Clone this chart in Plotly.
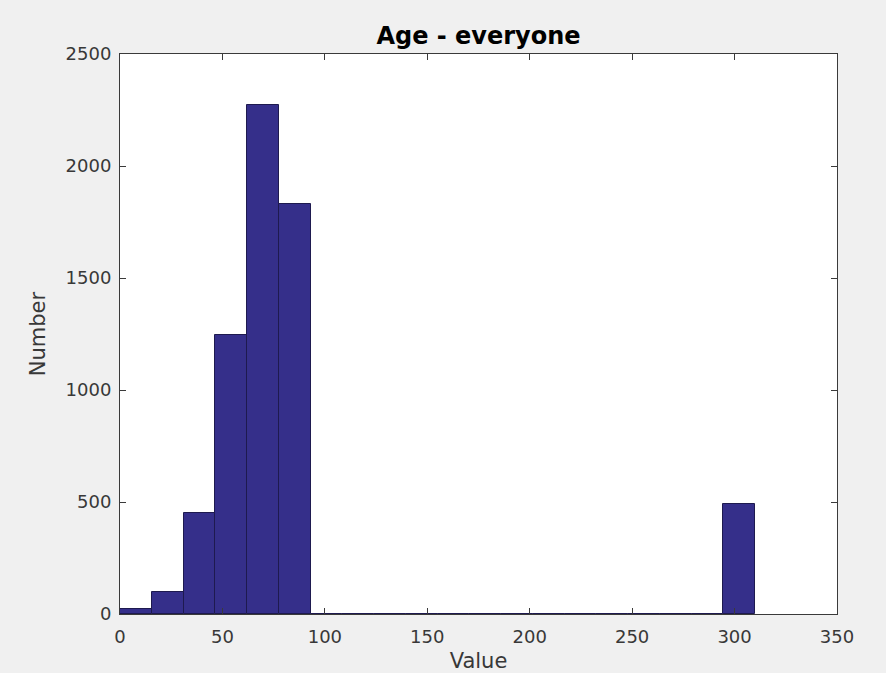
import plotly.graph_objects as go

bin_centers = [7.75, 23.25, 38.75, 54.25, 69.75, 85.25, 100.75, 116.25, 131.75, 147.25,
               162.75, 178.25, 193.75, 209.25, 224.75, 240.25, 255.75, 271.25, 286.75, 302.25]
counts = [21, 100, 452, 1245, 2272, 1829, 0, 0, 0, 0,
          0, 0, 0, 0, 0, 0, 0, 0, 0, 491]
bin_width = 15.5
x_ticks = [0, 50, 100, 150, 200, 250, 300, 350]
y_ticks = [0, 500, 1000, 1500, 2000, 2500]

fig = go.Figure(go.Bar(
    x=bin_centers, y=counts, width=bin_width,
    marker=dict(color="#352F8A", line=dict(color="#1E1A4F", width=1)),
    hoverinfo="x+y",
))

axis_common = dict(
    showline=True, linecolor="#3a3a3a", linewidth=1, mirror="ticks",
    ticks="inside", ticklen=6, tickcolor="#3a3a3a", tickwidth=1,
    showgrid=False, zeroline=False, automargin=False,
    tickfont=dict(family="DejaVu Sans", size=18, color="#383838"),
)

fig.update_layout(
    width=886, height=673,
    paper_bgcolor="#f0f0f0", plot_bgcolor="white",
    margin=dict(l=120, r=49, t=54, b=59),
    title=dict(text="<b>Age - everyone</b>", x=(120 + 837) / 2 / 886, xanchor="center",
               xref="container", yref="container", y=1 - 36/673, yanchor="middle",
               font=dict(family="DejaVu Sans", size=24, color="#000000")),
    xaxis=dict(range=[0, 350], tickvals=x_ticks, ticklabelstandoff=6,
               title=dict(text="Value", font=dict(family="DejaVu Sans", size=21, color="#383838"), standoff=8),
               **axis_common),
    yaxis=dict(range=[0, 2500], tickvals=y_ticks, ticklabelstandoff=4,
               title=dict(text="Number", font=dict(family="DejaVu Sans", size=21, color="#383838"), standoff=14),
               **axis_common),
    showlegend=False, bargap=0,
)

fig.write_html("out.html", config={"displayModeBar": False},
               post_script="document.body.style.margin='0px';")
